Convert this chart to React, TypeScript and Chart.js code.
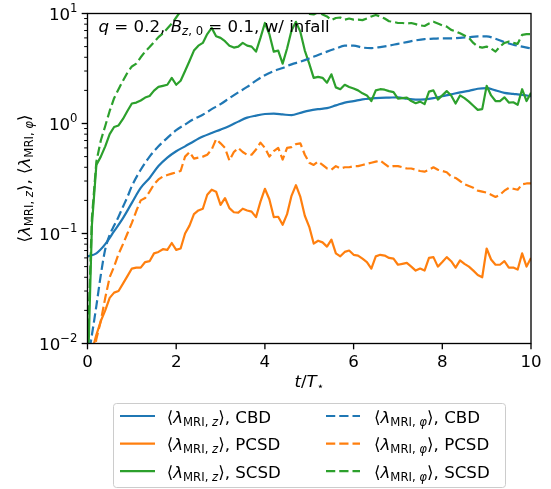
import React, { useEffect, useRef } from "react";
import { Chart, registerables } from "chart.js";

Chart.register(...registerables);

// ---------- data ----------
const T_FINE = [
  0, 0.1, 0.2, 0.3, 0.4, 0.5, 0.6, 0.7, 0.8, 0.9,
  1, 1.1, 1.2, 1.3, 1.4, 1.5, 1.6, 1.7, 1.8, 1.9,
  2, 2.1, 2.2, 2.3, 2.4, 2.5, 2.6, 2.7, 2.8, 2.9,
  3, 3.1, 3.2, 3.3, 3.4, 3.5, 3.6, 3.7, 3.8, 3.9,
  4, 4.1, 4.2, 4.3, 4.4, 4.5, 4.6, 4.7, 4.8, 4.9,
  5, 5.1, 5.2, 5.3, 5.4, 5.5, 5.6, 5.7, 5.8, 5.9,
  6, 6.1, 6.2, 6.3, 6.4, 6.5, 6.6, 6.7, 6.8, 6.9,
  7, 7.1, 7.2, 7.3, 7.4, 7.5, 7.6, 7.7, 7.8, 7.9,
  8, 8.1, 8.2, 8.3, 8.4, 8.5, 8.6, 8.7, 8.8, 8.9,
  9, 9.1, 9.2, 9.3, 9.4, 9.5, 9.6, 9.7, 9.8, 9.9,
  10,
];

const T_CBD_Z = [
  0, 0.2, 0.4, 0.6, 0.8, 1.0, 1.2, 1.4, 1.6, 1.8, 2.0, 2.2, 2.4, 2.6, 2.8,
  3.0, 3.2, 3.4, 3.6, 3.8, 4.0, 4.2, 4.4, 4.6, 4.8, 5.0, 5.2, 5.4, 5.6, 5.8,
  6.0, 6.2, 6.4, 6.6, 6.8, 7.0, 7.2, 7.4, 7.6, 7.8, 8.0, 8.2, 8.4, 8.6, 8.8,
  9.0, 9.2, 9.4, 9.6, 9.8, 10,
];
const CBD_Z = [
  0.062, 0.066, 0.08, 0.105, 0.138, 0.19, 0.26, 0.32, 0.41, 0.49, 0.56, 0.62,
  0.69, 0.76, 0.82, 0.88, 0.95, 1.04, 1.13, 1.18, 1.22, 1.23, 1.21, 1.19, 1.25,
  1.31, 1.35, 1.38, 1.46, 1.55, 1.6, 1.66, 1.69, 1.71, 1.72, 1.73, 1.68, 1.65,
  1.66, 1.7, 1.77, 1.84, 1.92, 1.98, 2.07, 2.1, 2.0, 1.9, 1.86, 1.82, 1.77,
];

const T_CBD_PHI = [
  0.05, 0.1, 0.2, 0.3, 0.4, 0.5, 0.6, 0.7, 0.8, 0.9, 1.0, 1.2, 1.4, 1.6, 1.8,
  2.0, 2.2, 2.4, 2.6, 2.8, 3.0, 3.2, 3.4, 3.6, 3.8, 4.0, 4.2, 4.4, 4.6, 4.8,
  5.0, 5.2, 5.4, 5.6, 5.8, 6.0, 6.2, 6.4, 6.6, 6.8, 7.0, 7.2, 7.4, 7.6, 7.8,
  8.0, 8.2, 8.4, 8.6, 8.8, 9.0, 9.2, 9.4, 9.6, 9.8, 10,
];
const CBD_PHI = [
  0.009, 0.012, 0.022, 0.042, 0.072, 0.097, 0.118, 0.142, 0.175, 0.215, 0.27,
  0.38, 0.5, 0.62, 0.74, 0.87, 0.98, 1.1, 1.2, 1.35, 1.5, 1.7, 1.92, 2.15,
  2.45, 2.75, 3.0, 3.2, 3.45, 3.65, 3.9, 4.2, 4.5, 4.8, 5.1, 5.1, 4.9, 4.85,
  4.95, 5.1, 5.3, 5.5, 5.7, 5.85, 5.9, 5.95, 5.95, 6.0, 6.1, 6.2, 6.2, 5.9,
  5.5, 5.2, 5.0, 4.8,
];

const PCSD_Z = [
  null, 0.0085, 0.012, 0.016, 0.02, 0.026, 0.029, 0.03, 0.035, 0.041,
  0.048, 0.049, 0.049, 0.055, 0.056, 0.066, 0.068, 0.072, 0.071, 0.082,
  0.071, 0.073, 0.1, 0.118, 0.15, 0.162, 0.168, 0.225, 0.25, 0.24,
  0.182, 0.21, 0.17, 0.156, 0.155, 0.168, 0.162, 0.158, 0.141, 0.195,
  0.255, 0.205, 0.141, 0.142, 0.12, 0.15, 0.22, 0.275, 0.215, 0.145,
  0.115, 0.081, 0.086, 0.083, 0.076, 0.088, 0.066, 0.062, 0.068, 0.07,
  0.064, 0.063, 0.059, 0.055, 0.048, 0.062, 0.064, 0.063, 0.06, 0.059,
  0.052, 0.053, 0.054, 0.05, 0.046, 0.048, 0.046, 0.06, 0.061, 0.05,
  0.055, 0.061, 0.056, 0.049, 0.057, 0.053, 0.05, 0.046, 0.042, 0.04,
  0.073, 0.058, 0.052, 0.052, 0.056, 0.049, 0.049, 0.047, 0.066, 0.05,
  0.06,
];

const PCSD_PHI = [
  null, 0.006, 0.011, 0.016, 0.026, 0.04, 0.05, 0.065, 0.08, 0.1,
  0.125, 0.16, 0.2, 0.21, 0.24, 0.28, 0.31, 0.33, 0.34, 0.35,
  0.36, 0.37, 0.5, 0.55, 0.48, 0.49, 0.5, 0.52, 0.58, 0.72,
  0.66, 0.6, 0.46, 0.55, 0.6, 0.55, 0.52, 0.52, 0.58, 0.67,
  0.6, 0.5, 0.56, 0.6, 0.47, 0.6, 0.61, 0.65, 0.66, 0.52,
  0.44, 0.42, 0.45, 0.42, 0.39, 0.38, 0.41, 0.39, 0.4, 0.4,
  0.41, 0.41, 0.42, 0.43, 0.44, 0.45, 0.46, 0.43, 0.4, 0.41,
  0.41, 0.4, 0.39, 0.39, 0.38, 0.37, 0.365, 0.38, 0.4, 0.38,
  0.37, 0.36, 0.33, 0.32, 0.3, 0.28, 0.27, 0.26, 0.245, 0.24,
  0.235, 0.225, 0.215, 0.225, 0.245, 0.26, 0.255, 0.25, 0.28, 0.285,
  0.285,
];

const SCSD_Z = [
  0.004, 0.12, 0.42, 0.5, 0.62, 0.8, 0.93, 0.96, 1.1, 1.3,
  1.52, 1.55, 1.62, 1.72, 1.78, 1.99, 2.15, 2.2, 2.25, 2.6,
  2.25, 2.45, 3.0, 3.7, 4.6, 5.1, 5.4, 6.5, 7.4, 6.2,
  6.0, 5.6, 5.1, 4.9, 5.0, 5.4, 5.1, 5.0, 4.5, 6.0,
  8.2, 6.5, 4.5, 4.6, 3.5, 4.8, 7.0, 8.4, 6.8, 4.6,
  3.5, 2.6, 2.65, 2.6, 2.35, 2.8, 2.13, 2.05, 2.25, 2.15,
  2.08, 2.0, 1.88, 1.8, 1.6, 2.0, 2.05, 2.03, 1.97, 1.93,
  1.68, 1.7, 1.72, 1.6, 1.53, 1.58, 1.5, 1.95, 2.0, 1.65,
  1.8, 1.97, 1.8, 1.52, 1.8, 1.7, 1.58, 1.45, 1.33, 1.35,
  2.2, 1.8, 1.6, 1.6, 1.73, 1.55, 1.56, 1.48, 2.05, 1.6,
  1.9,
];

const SCSD_PHI = [
  0.008, 0.14, 0.45, 0.7, 0.95, 1.3, 1.7, 2.05, 2.45, 2.9,
  3.3, 3.5, 4.0, 4.5, 4.95, 5.5, 6.1, 6.6, 7.3, 8.1,
  9.2, 10.5, 11.5, 12.2, 12.8, 13.2, 13.5, 13.8, 14.0, 14.0,
  14.0, 13.8, 13.6, 13.5, 13.4, 13.2, 13.0, 12.8, 12.6, 12.4,
  12.2, 12.0, 11.8, 11.6, 11.4, 11.2, 11.0, 10.9, 10.8, 10.4,
  9.9, 9.8, 10.3, 9.8, 9.4, 8.7, 9.1, 9.2, 8.8, 9.0,
  8.8, 8.8, 8.7, 9.0, 9.4, 9.7, 9.4, 9.0, 8.5, 8.4,
  8.2, 8.2, 8.1, 8.2, 8.0, 7.8, 7.7, 8.1, 8.4, 8.1,
  7.8, 7.6, 7.1, 6.9, 6.6, 6.3, 6.0, 5.4, 5.0, 4.9,
  5.0, 4.8, 4.5, 5.0, 5.4, 5.55, 5.4, 5.3, 6.4, 6.5,
  6.5,
];

const X_TICKS = [0, 2, 4, 6, 8, 10];
const Y_TICKS = [0.01, 0.1, 1, 10];
const Y_TICK_EXPONENTS = ["\u22122", "\u22121", "0", "1"];
const Y_MINOR_DECADES = [0.01, 0.1, 1];
const Y_MINOR_MULTIPLES = [2, 3, 4, 5, 6, 7, 8, 9];
const DISKS = ["CBD", "PCSD", "SCSD"];
const DISK_COLORS = ["#1f77b4", "#ff7f0e", "#2ca02c"];

// ---------- text helpers ----------
const FAM = '"DejaVu Sans", sans-serif';
const S = 16.67;
const SS = 11.67;
const SUB = 3;

type Run = { t: string; size?: number; italic?: boolean; dy?: number };

function fontOf(r: Run) {
  return `${r.italic ? "italic " : ""}${r.size ?? S}px ${FAM}`;
}

function drawRuns(
  ctx: CanvasRenderingContext2D,
  runs: Run[],
  x: number,
  y: number,
  align: "left" | "center" | "right"
) {
  let total = 0;
  const widths: number[] = [];
  for (const r of runs) {
    ctx.font = fontOf(r);
    const w = ctx.measureText(r.t).width;
    widths.push(w);
    total += w;
  }
  let cx = align === "left" ? x : align === "center" ? x - total / 2 : x - total;
  ctx.textAlign = "left";
  ctx.textBaseline = "alphabetic";
  runs.forEach((r, i) => {
    ctx.font = fontOf(r);
    ctx.fillText(r.t, cx, y + (r.dy ?? 0));
    cx += widths[i];
  });
}

function lambdaRuns(sub: string): Run[] {
  return [
    { t: "\u27E8" },
    { t: "\u03BB", italic: true },
    { t: "MRI", size: SS, dy: SUB },
    { t: ", ", size: SS, dy: SUB },
    { t: sub, size: SS, italic: true, dy: SUB },
    { t: "\u27E9" },
  ];
}

const decorPlugin = {
  id: "decor",
  afterDraw(chart: any) {
    const ctx: CanvasRenderingContext2D = chart.ctx;
    const { left, right, top, bottom } = chart.chartArea;
    const xs = chart.scales.x;
    const ys = chart.scales.y;
    ctx.save();
    ctx.fillStyle = "#000";
    ctx.strokeStyle = "#000";

    // spines
    ctx.lineWidth = 1.33;
    ctx.strokeRect(left, top, right - left, bottom - top);

    // x ticks
    const major = 5.83;
    X_TICKS.forEach((v) => {
      const px = xs.getPixelForValue(v);
      ctx.lineWidth = 1.33;
      ctx.beginPath();
      ctx.moveTo(px, bottom);
      ctx.lineTo(px, bottom + major);
      ctx.stroke();
      drawRuns(ctx, [{ t: String(v) }], px, bottom + 23.4, "center");
    });

    // y major ticks
    Y_TICKS.forEach((v, i) => {
      const py = ys.getPixelForValue(v);
      ctx.lineWidth = 1.33;
      ctx.beginPath();
      ctx.moveTo(left - major, py);
      ctx.lineTo(left, py);
      ctx.stroke();
      drawRuns(
        ctx,
        [{ t: "10" }, { t: Y_TICK_EXPONENTS[i], size: SS, dy: -7.5 }],
        left - 10,
        py + 6.2,
        "right"
      );
    });
    // y minor ticks
    ctx.lineWidth = 1;
    Y_MINOR_DECADES.forEach((d) => {
      Y_MINOR_MULTIPLES.forEach((k) => {
        const py = ys.getPixelForValue(d * k);
        ctx.beginPath();
        ctx.moveTo(left - 3.33, py);
        ctx.lineTo(left, py);
        ctx.stroke();
      });
    });

    // x label
    drawRuns(
      ctx,
      [
        { t: "t", italic: true },
        { t: "/" },
        { t: "T", italic: true },
        { t: "\u22C6", size: SS, dy: SUB },
      ],
      (left + right) / 2,
      387,
      "center"
    );

    // y label
    ctx.save();
    ctx.translate(30, (top + bottom) / 2);
    ctx.rotate(-Math.PI / 2);
    drawRuns(
      ctx,
      [...lambdaRuns("z"), { t: ", " }, ...lambdaRuns("\u03C6")],
      0,
      0,
      "center"
    );
    ctx.restore();

    // annotation
    drawRuns(
      ctx,
      [
        { t: "q", italic: true },
        { t: " = 0.2, " },
        { t: "B", italic: true },
        { t: "z", size: SS, italic: true, dy: SUB },
        { t: ", 0", size: SS, dy: SUB },
        { t: " = 0.1, w/ infall" },
      ],
      98.5,
      32.3,
      "left"
    );

    // legend
    const bx = 113.5,
      by = 403.5,
      bw = 392,
      bh = 84,
      rr = 3;
    ctx.beginPath();
    ctx.moveTo(bx + rr, by);
    ctx.lineTo(bx + bw - rr, by);
    ctx.arcTo(bx + bw, by, bx + bw, by + rr, rr);
    ctx.lineTo(bx + bw, by + bh - rr);
    ctx.arcTo(bx + bw, by + bh, bx + bw - rr, by + bh, rr);
    ctx.lineTo(bx + rr, by + bh);
    ctx.arcTo(bx, by + bh, bx, by + bh - rr, rr);
    ctx.lineTo(bx, by + rr);
    ctx.arcTo(bx, by, bx + rr, by, rr);
    ctx.closePath();
    ctx.fillStyle = "rgba(255,255,255,0.8)";
    ctx.fill();
    ctx.strokeStyle = "#cccccc";
    ctx.lineWidth = 1;
    ctx.stroke();

    const cols = [
      { x0: 120, x1: 155, tx: 166.7, sub: "z", dash: [] as number[] },
      { x0: 326, x1: 360, tx: 374, sub: "\u03C6", dash: [9.25, 4] },
    ];
    cols.forEach((c) => {
      DISKS.forEach((name, i) => {
        const ly = 416 + i * 27.6;
        ctx.strokeStyle = DISK_COLORS[i];
        ctx.lineWidth = 2.2;
        ctx.setLineDash(c.dash);
        ctx.beginPath();
        ctx.moveTo(c.x0, ly);
        ctx.lineTo(c.x1, ly);
        ctx.stroke();
        ctx.setLineDash([]);
        ctx.fillStyle = "#000";
        drawRuns(ctx, [...lambdaRuns(c.sub), { t: ", " + name }], c.tx, ly + 6.7, "left");
      });
    });

    ctx.restore();
  },
};

function series(ts: number[], vs: (number | null)[]) {
  return ts.map((t, i) => ({ x: t, y: vs[i] }));
}

export default function App() {
  const ref = useRef<HTMLCanvasElement | null>(null);

  useEffect(() => {
    if (!ref.current) return;
    const mk = (
      label: string,
      data: any[],
      color: string,
      dashed: boolean,
      order: number,
      smooth: boolean
    ) => ({
      label,
      data,
      borderColor: color,
      backgroundColor: color,
      borderWidth: 2.2,
      borderDash: dashed ? [9.25, 4] : [],
      borderJoinStyle: "round" as const,
      pointRadius: 0,
      fill: false,
      order,
      cubicInterpolationMode: smooth ? ("monotone" as const) : ("default" as const),
      tension: 0,
      spanGaps: false,
    });

    const chart = new Chart(ref.current, {
      type: "line",
      data: {
        datasets: [
          mk("CBD z", series(T_CBD_Z, CBD_Z), DISK_COLORS[0], false, 6, true),
          mk("PCSD z", series(T_FINE, PCSD_Z), DISK_COLORS[1], false, 5, false),
          mk("SCSD z", series(T_FINE, SCSD_Z), DISK_COLORS[2], false, 4, false),
          mk("CBD phi", series(T_CBD_PHI, CBD_PHI), DISK_COLORS[0], true, 3, true),
          mk("PCSD phi", series(T_FINE, PCSD_PHI), DISK_COLORS[1], true, 2, false),
          mk("SCSD phi", series(T_FINE, SCSD_PHI), DISK_COLORS[2], true, 1, false),
        ],
      },
      options: {
        animation: false,
        responsive: false,
        devicePixelRatio: 1,
        layout: { padding: { left: 87.5, top: 13.5, right: 20, bottom: 145.5 } },
        plugins: { legend: { display: false }, tooltip: { enabled: false } },
        events: [],
        scales: {
          x: { type: "linear", min: 0, max: 10, display: false },
          y: { type: "logarithmic", min: 0.01, max: 10, display: false },
        },
      },
      plugins: [decorPlugin],
    });
    return () => chart.destroy();
  }, []);

  return (
    <div style={{ position: "fixed", left: 0, top: 0, width: 551, height: 489, background: "#fff" }}>
      <canvas ref={ref} width={551} height={489} style={{ width: 551, height: 489, display: "block" }} />
    </div>
  );
}
